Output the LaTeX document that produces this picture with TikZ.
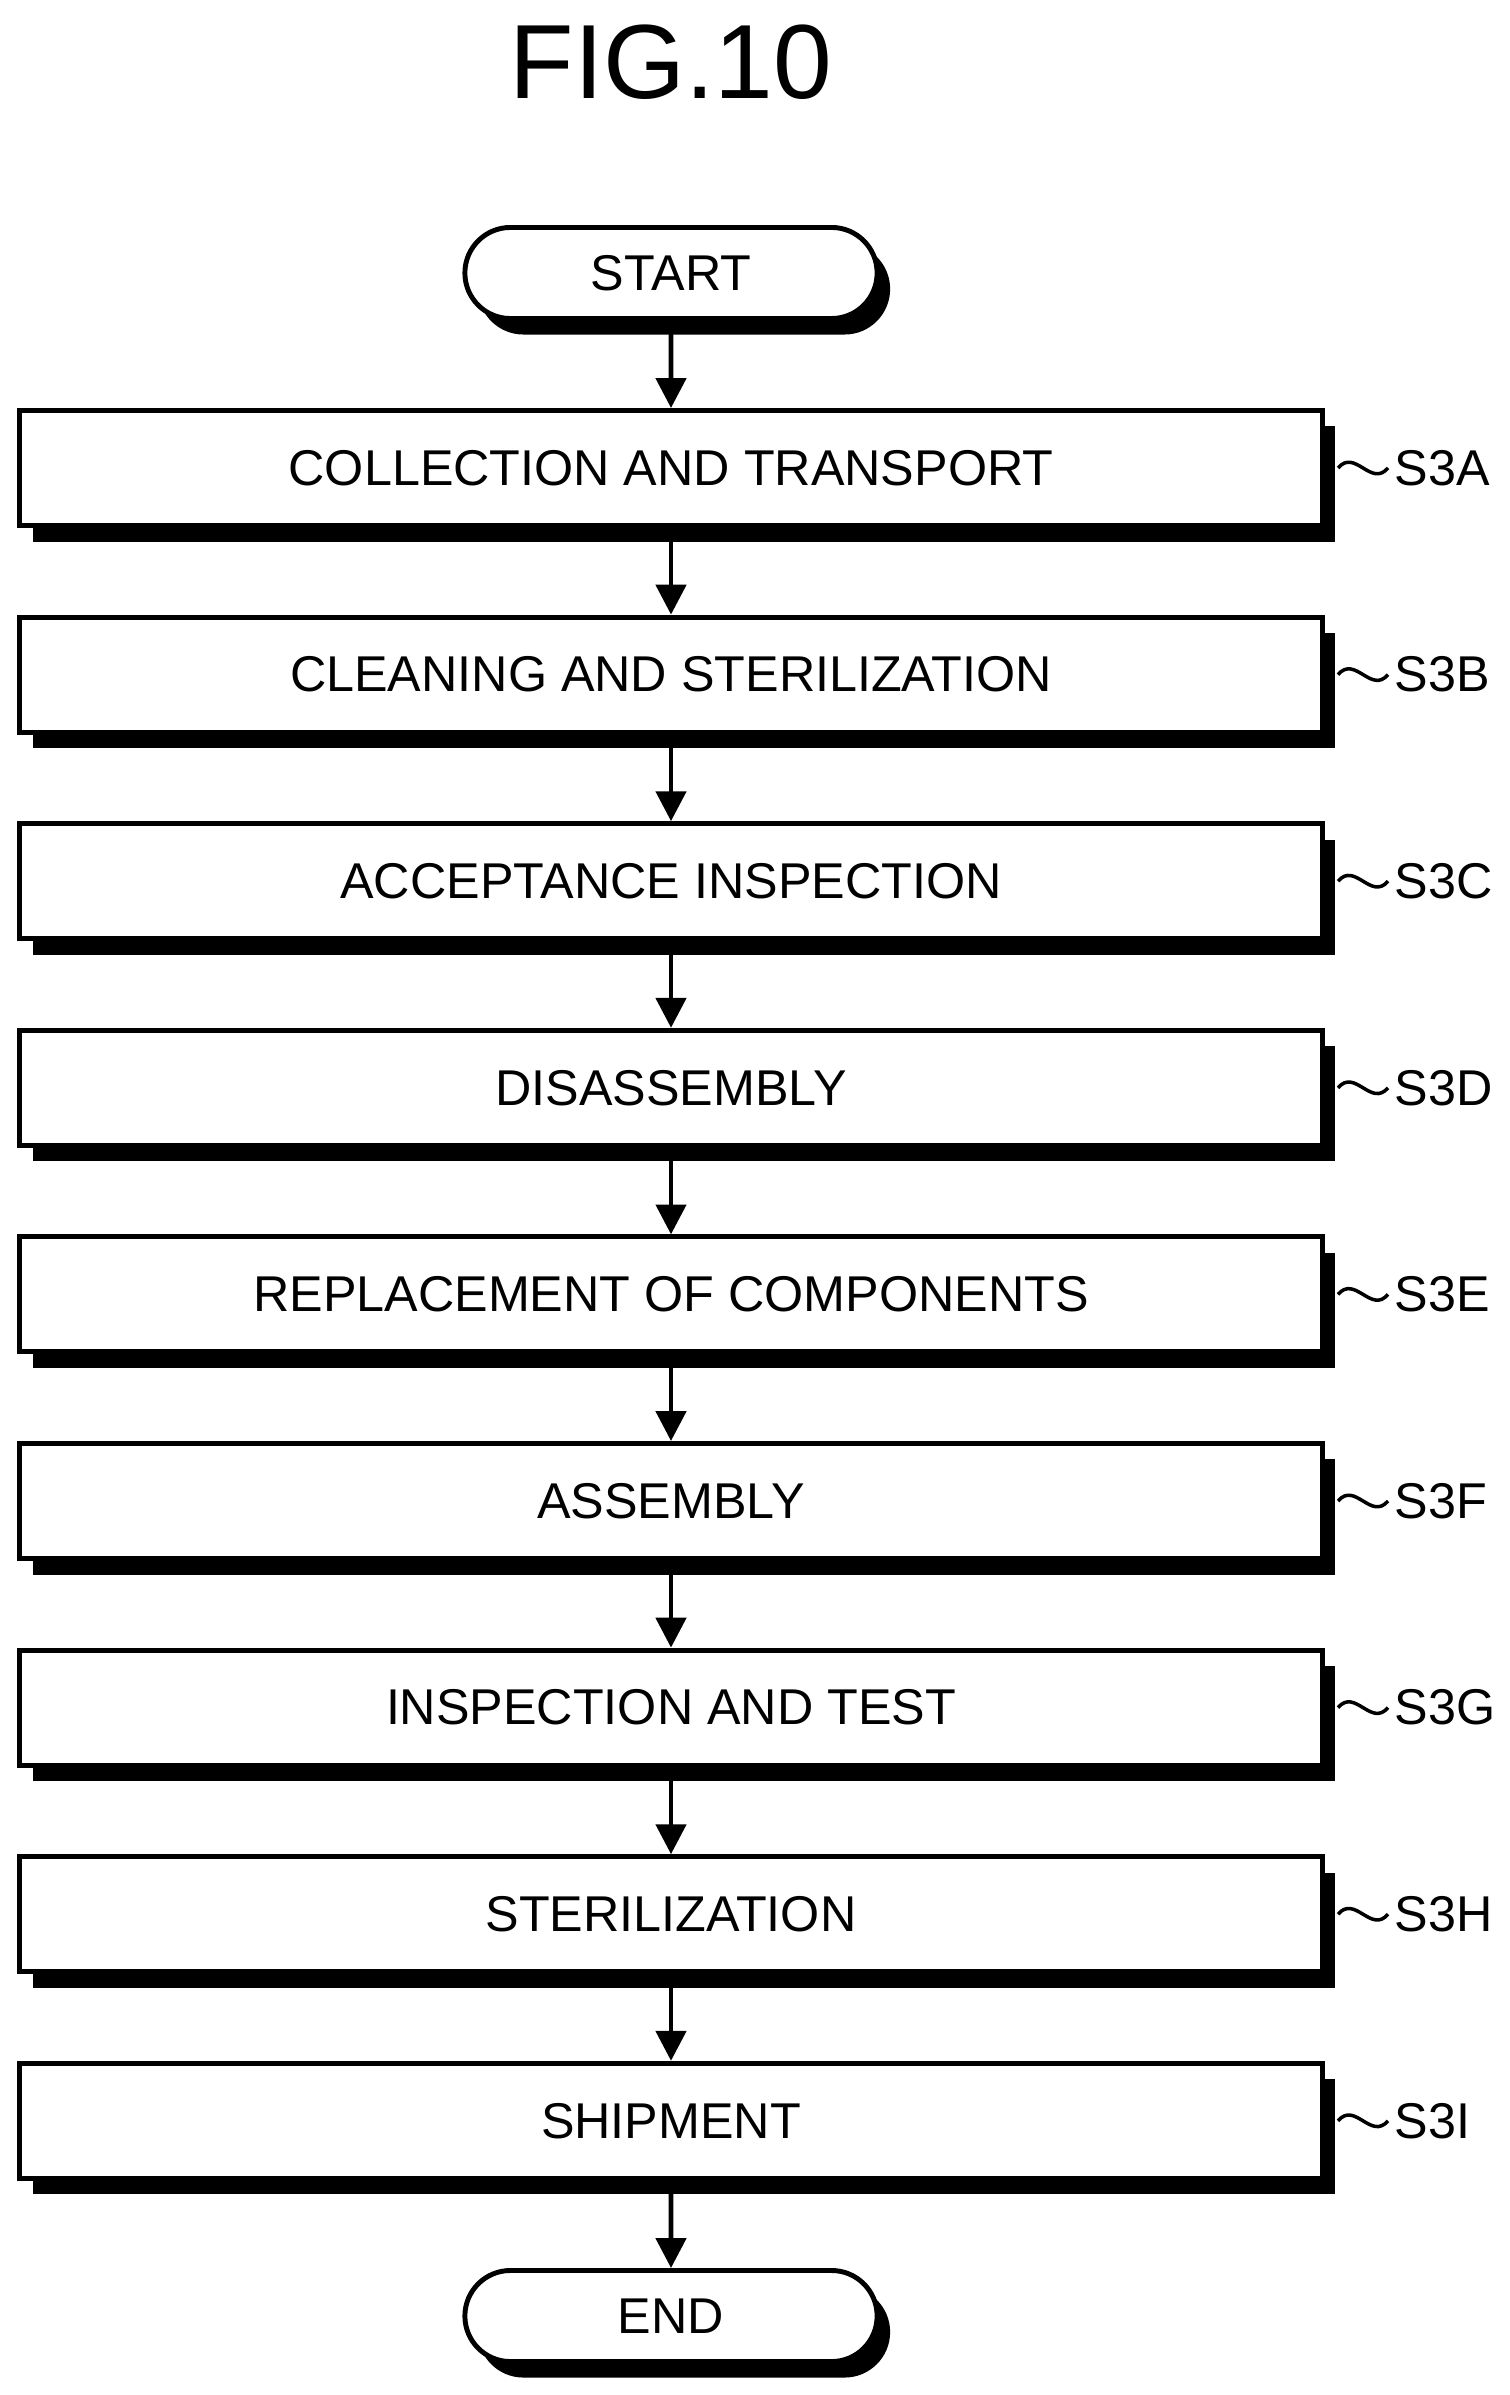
\documentclass[tikz,border=0pt]{standalone}
\usepackage{fontspec}
\setmainfont{Liberation Sans}
\usetikzlibrary{shapes.misc,shadows,arrows.meta}
\begin{document}
\begin{tikzpicture}[x=0.01cm,y=-0.01cm,
  shad/.style={drop shadow={shadow xshift=0.13cm,shadow yshift=-0.16cm,fill=black,opacity=1}},
  stepbox/.style={draw,line width=1.4pt,fill=white,minimum width=13.02cm,minimum height=1.15cm,inner sep=0pt,font=\fontsize{14.3}{17}\selectfont,shad},
  term/.style={draw,line width=1.4pt,fill=white,rounded rectangle,minimum width=4.12cm,minimum height=0.91cm,inner sep=0pt,font=\fontsize{14.3}{17}\selectfont,shad},
  lab/.style={anchor=west,inner sep=0pt,font=\fontsize{14.3}{17}\selectfont},
  arr/.style={line width=1.4pt,-{Triangle[length=8.5pt,width=8.5pt]}}]
\useasboundingbox (0,0) rectangle (1510,2395);
\node[font=\fontsize{30}{36}\selectfont] (title) at (671,62) {FIG.10};
\node[term] (start) at (671,273) {START};
\foreach \i/\t/\l in {0/COLLECTION AND TRANSPORT/S3A,1/CLEANING AND STERILIZATION/S3B,2/ACCEPTANCE INSPECTION/S3C,3/DISASSEMBLY/S3D,4/REPLACEMENT OF COMPONENTS/S3E,5/ASSEMBLY/S3F,6/INSPECTION AND TEST/S3G,7/STERILIZATION/S3H,8/SHIPMENT/S3I}{
  \node[stepbox] (b\i) at (671,{468+206.6*\i}) {\t};
  \coordinate (t\i) at (1338,{468+206.6*\i});
  \draw[line width=1pt] (t\i) .. controls +(17,-20) and +(-17,20) .. ++(50,0) coordinate (e\i);
  \node[lab] (l\i) at ([xshift=0.06cm]e\i) {\l};
}
\node[term] (end) at (671,2316) {END};
\draw[arr] (start) -- (b0);
\foreach \i [evaluate=\i as \j using int(\i+1)] in {0,...,7}{\draw[arr] (b\i) -- (b\j);}
\draw[arr] (b8) -- (end);
\end{tikzpicture}
\end{document}
